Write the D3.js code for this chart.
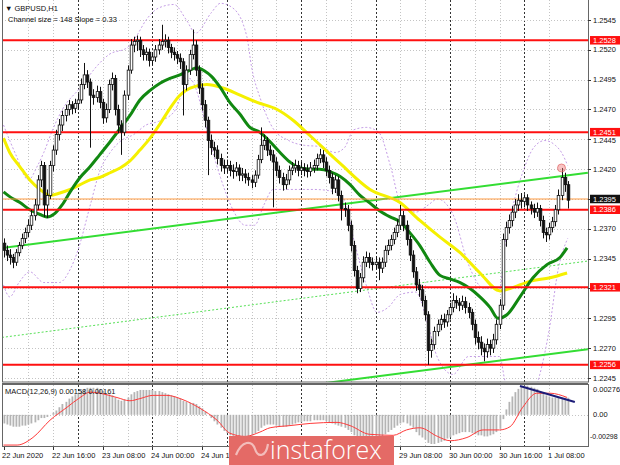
<!DOCTYPE html>
<html><head><meta charset="utf-8">
<script src="https://cdn.jsdelivr.net/npm/d3@7"></script>
<style>
html,body{margin:0;padding:0;background:#fff;}
svg{display:block;font-family:"Liberation Sans",Arial,sans-serif;}
</style></head><body>
<svg id="chart" width="620" height="465"></svg>
<script>
// ---- GBPUSD H1 candles ----
const symbol = "GBPUSD,H1";
const channelInfo = "Channel size = 148 Slope = 0.33";
const firstOpen = 1.2358;
const closes = [
1.2352,1.2348,1.2346,1.2342,1.2350,1.2356,1.2362,1.2367,1.2373,1.2381,
1.2390,1.2411,1.2423,1.2390,1.2398,1.2423,1.2436,1.2449,1.2457,1.2465,
1.2470,1.2474,1.2471,1.2475,1.2478,1.2491,1.2499,1.2493,1.2482,1.2480,
1.2485,1.2476,1.2463,1.2470,1.2491,1.2496,1.2470,1.2457,1.2451,1.2482,
1.2503,1.2524,1.2527,1.2528,1.2520,1.2516,1.2518,1.2511,1.2514,1.2520,
1.2524,1.2527,1.2528,1.2522,1.2518,1.2516,1.2513,1.2510,1.2491,1.2503,
1.2516,1.2524,1.2503,1.2488,1.2474,1.2461,1.2444,1.2438,1.2436,1.2429,
1.2423,1.2421,1.2423,1.2419,1.2418,1.2421,1.2415,1.2416,1.2413,1.2411,
1.2409,1.2415,1.2428,1.2440,1.2444,1.2436,1.2432,1.2426,1.2419,1.2413,
1.2407,1.2411,1.2419,1.2421,1.2423,1.2419,1.2421,1.2419,1.2418,1.2421,
1.2423,1.2429,1.2432,1.2426,1.2419,1.2413,1.2404,1.2411,1.2398,1.2387,
1.2386,1.2373,1.2356,1.2335,1.2320,1.2329,1.2342,1.2346,1.2342,1.2340,
1.2342,1.2337,1.2342,1.2352,1.2356,1.2361,1.2367,1.2373,1.2381,1.2373,
1.2361,1.2348,1.2334,1.2323,1.2319,1.2310,1.2298,1.2268,1.2273,1.2284,
1.2290,1.2294,1.2292,1.2298,1.2304,1.2310,1.2308,1.2306,1.2309,1.2304,
1.2300,1.2290,1.2279,1.2275,1.2270,1.2267,1.2273,1.2270,1.2277,1.2290,
1.2306,1.2361,1.2371,1.2377,1.2384,1.2390,1.2394,1.2393,1.2396,1.2390,
1.2387,1.2384,1.2387,1.2377,1.2367,1.2365,1.2371,1.2376,1.2386,1.2398,
1.2413,1.2407,1.2394];
const highs = [
1.2362,1.2356,1.2353,1.2349,1.2353,1.2359,1.2366,1.2371,1.2378,1.2386,
1.2395,1.2415,1.2427,1.2426,1.2403,1.2427,1.2440,1.2453,1.2462,1.2469,
1.2474,1.2478,1.2477,1.2479,1.2483,1.2496,1.2509,1.2503,1.2496,1.2487,
1.2490,1.2489,1.2479,1.2475,1.2495,1.2501,1.2499,1.2474,1.2461,1.2486,
1.2507,1.2529,1.2531,1.2532,1.2531,1.2524,1.2522,1.2521,1.2518,1.2524,
1.2529,1.2541,1.2533,1.2531,1.2525,1.2522,1.2519,1.2517,1.2513,1.2507,
1.2520,1.2537,1.2528,1.2507,1.2492,1.2478,1.2464,1.2449,1.2443,1.2440,
1.2433,1.2428,1.2428,1.2427,1.2424,1.2426,1.2424,1.2421,1.2420,1.2417,
1.2415,1.2419,1.2432,1.2455,1.2449,1.2447,1.2440,1.2436,1.2430,1.2423,
1.2417,1.2416,1.2423,1.2426,1.2428,1.2427,1.2426,1.2425,1.2424,1.2426,
1.2428,1.2433,1.2437,1.2436,1.2430,1.2423,1.2417,1.2415,1.2414,1.2402,
1.2392,1.2390,1.2377,1.2360,1.2339,1.2333,1.2347,1.2351,1.2350,1.2346,
1.2347,1.2346,1.2346,1.2356,1.2361,1.2365,1.2371,1.2378,1.2390,1.2385,
1.2377,1.2364,1.2352,1.2338,1.2328,1.2323,1.2314,1.2301,1.2278,1.2288,
1.2294,1.2298,1.2299,1.2302,1.2308,1.2316,1.2314,1.2312,1.2314,1.2313,
1.2308,1.2303,1.2294,1.2284,1.2280,1.2274,1.2278,1.2277,1.2282,1.2294,
1.2311,1.2366,1.2376,1.2382,1.2389,1.2395,1.2399,1.2400,1.2399,1.2399,
1.2393,1.2391,1.2392,1.2390,1.2381,1.2371,1.2375,1.2380,1.2390,1.2403,
1.2421,1.2417,1.2410];
const lows = [
1.2346,1.2343,1.2340,1.2337,1.2339,1.2347,1.2353,1.2358,1.2363,1.2369,
1.2377,1.2386,1.2405,1.2380,1.2379,1.2395,1.2418,1.2432,1.2444,1.2452,
1.2460,1.2465,1.2466,1.2467,1.2470,1.2475,1.2487,1.2488,1.2438,1.2474,
1.2476,1.2471,1.2458,1.2459,1.2467,1.2486,1.2465,1.2450,1.2432,1.2448,
1.2478,1.2500,1.2518,1.2519,1.2514,1.2511,1.2511,1.2506,1.2507,1.2510,
1.2516,1.2520,1.2522,1.2517,1.2513,1.2511,1.2508,1.2504,1.2465,1.2486,
1.2499,1.2512,1.2498,1.2483,1.2469,1.2455,1.2415,1.2432,1.2430,1.2424,
1.2418,1.2416,1.2417,1.2414,1.2412,1.2414,1.2410,1.2410,1.2408,1.2406,
1.2404,1.2405,1.2412,1.2425,1.2436,1.2431,1.2427,1.2388,1.2414,1.2408,
1.2402,1.2403,1.2407,1.2415,1.2417,1.2414,1.2415,1.2414,1.2413,1.2414,
1.2417,1.2419,1.2425,1.2421,1.2414,1.2408,1.2399,1.2400,1.2393,1.2377,
1.2380,1.2368,1.2351,1.2330,1.2316,1.2317,1.2325,1.2338,1.2337,1.2335,
1.2336,1.2327,1.2333,1.2338,1.2348,1.2352,1.2357,1.2363,1.2369,1.2368,
1.2356,1.2343,1.2329,1.2318,1.2313,1.2305,1.2293,1.2256,1.2262,1.2269,
1.2280,1.2285,1.2287,1.2288,1.2294,1.2300,1.2303,1.2301,1.2302,1.2299,
1.2295,1.2285,1.2273,1.2269,1.2264,1.2259,1.2262,1.2264,1.2266,1.2273,
1.2286,1.2302,1.2355,1.2366,1.2372,1.2379,1.2385,1.2387,1.2388,1.2385,
1.2382,1.2379,1.2380,1.2372,1.2362,1.2359,1.2361,1.2367,1.2372,1.2382,
1.2394,1.2401,1.2387];

// moving averages as [bar, price]
const maFast = [[0,1.2401],[2,1.2397],[5.3,1.2392],[8.5,1.2386],[11.8,1.2382],[14,1.2380],[16.6,1.2383],[18.9,1.2390],[21.5,1.2401],[24.7,1.2413],[27.9,1.2422],[31,1.2432],[34.4,1.2443],[37.6,1.2454],[40.8,1.2465],[44,1.2478],[47.3,1.2486],[50.5,1.2492],[53.7,1.2496],[56.9,1.2499],[60.2,1.2503],[62.4,1.2505],[65,1.2502],[67,1.2498],[69.8,1.2489],[73,1.2476],[76.3,1.2466],[79.5,1.2455],[82.7,1.2451],[86,1.2443],[89.2,1.2434],[92.4,1.2426],[95.6,1.2421],[98.9,1.2420],[102,1.2420],[105.3,1.2418],[108.5,1.2414],[111.8,1.2407],[115,1.2398],[118,1.2392],[121.4,1.2385],[124.7,1.2380],[127.9,1.2376],[131,1.2367],[134.3,1.2356],[137.6,1.2342],[140.8,1.2331],[144,1.2328],[147.3,1.2325],[150.5,1.2320],[153.7,1.2313],[157,1.2304],[159.5,1.2295],[162.4,1.2298],[166.6,1.2313],[170.8,1.2329],[175.3,1.2340],[179.5,1.2346],[181.8,1.2354]];
const maSlow = [[0,1.2446],[2,1.2434],[5.3,1.2422],[8.5,1.2411],[11.8,1.2403],[15,1.2398],[18.2,1.2400],[21.5,1.2403],[24.7,1.2407],[27.9,1.2411],[31,1.2413],[34.4,1.2417],[37.6,1.2421],[40.8,1.2427],[44,1.2436],[47.3,1.2446],[50.5,1.2458],[53.7,1.2471],[56.9,1.2482],[60.2,1.2488],[65.6,1.2491],[70.8,1.2488],[76.3,1.2482],[81.8,1.2476],[88.3,1.2470],[93.4,1.2461],[98.9,1.2448],[108.5,1.2425],[118.2,1.2403],[127.9,1.2392],[134.3,1.2377],[140.8,1.2363],[147.3,1.2350],[153.7,1.2333],[160.2,1.2318],[163.4,1.2320],[169.8,1.2326],[176.3,1.2329],[181.8,1.2333]];

// bollinger envelope as [bar, price]
const bandUpper = [[0,1.2457],[4,1.2432],[8,1.2411],[11,1.2423],[13,1.2434],[16,1.2454],[19,1.2470],[25,1.2489],[30,1.2506],[34,1.2516],[40,1.2522],[43,1.2532],[46,1.2545],[50,1.2555],[55,1.2558],[59,1.2545],[62,1.2534],[67,1.2551],[70,1.2559],[74,1.2555],[78.5,1.2531],[80,1.2506],[83,1.2478],[87,1.2454],[92,1.2444],[97,1.2440],[102,1.2439],[107,1.2434],[110,1.2438],[113,1.2453],[117,1.2455],[121,1.2451],[125,1.2421],[128,1.2392],[133,1.2384],[137,1.2390],[140,1.2395],[145,1.2382],[150,1.2340],[155,1.2320],[160,1.2320],[162,1.2361],[165,1.2396],[168,1.2421],[171,1.2438],[174.6,1.2444],[178,1.2440],[180,1.2434],[182,1.2423]];
const bandLower = [[0,1.2323],[2,1.2313],[5,1.2325],[8.5,1.2334],[13,1.2325],[18,1.2325],[21.5,1.2336],[24,1.2352],[28,1.2390],[31,1.2418],[34.4,1.2434],[38,1.2444],[42,1.2449],[46,1.2457],[50,1.2460],[55,1.2468],[58,1.2486],[60,1.2496],[62,1.2488],[64,1.2470],[66,1.2449],[70,1.2413],[74,1.2386],[78,1.2373],[81,1.2373],[84,1.2390],[87,1.2403],[92,1.2403],[100,1.2403],[107,1.2401],[110,1.2394],[113,1.2361],[117,1.2323],[120.5,1.2300],[124,1.2304],[128,1.2315],[133,1.2317],[137,1.2289],[140,1.2262],[145,1.2248],[150,1.2263],[155,1.2263],[160,1.2263],[162,1.2240],[165,1.2229],[170,1.2227],[173,1.2248],[176,1.2285],[179,1.2337],[182,1.2362]];

// linear regression channel: [bar, price] at both ends of each line
const channelTop = [[-0.5,1.2354],[188.5,1.2417]];
const channelMid = [[-0.5,1.2279],[188.5,1.2343]];
const channelBottom = [[-0.5,1.2206],[188.5,1.2269]];

// horizontal levels
const levels = [1.2528, 1.2451, 1.2386, 1.2321, 1.2256];
const bidPrice = 1.2395;
const peakBar = 180;

// axes
const priceTicks = [1.2545,1.2520,1.2495,1.2470,1.2445,1.2420,1.2395,1.2370,1.2345,1.2320,1.2295,1.2270,1.2245];
const timeLabelBars = [0,16,32,48,64,128,144,160,176];
const timeLabels = ["22 Jun 2020","22 Jun 16:00","23 Jun 08:00","24 Jun 00:00","24 Jun 16:00","29 Jun 08:00","30 Jun 00:00","30 Jun 16:00","1 Jul 08:00"];
const daySeparatorBars = [24,48,72,96,120,144,168];

// MACD(12,26,9)
const macdLabel = "MACD(12,26,9) 0.00158 0.00161";
const macdMain = [
-0.0008,-0.0009,-0.0010,-0.0011,-0.0011,-0.0011,-0.0010,-0.0010,-0.0009,-0.0008,
-0.0007,-0.0005,-0.0003,-0.0003,-0.0002,0.0000,0.0002,0.0004,0.0007,0.0010,
0.0012,0.0015,0.0017,0.0019,0.0020,0.0022,0.0024,0.0025,0.0025,0.0025,
0.0025,0.0024,0.0022,0.0020,0.0019,0.0018,0.0016,0.0014,0.0013,0.0014,
0.0016,0.0019,0.0021,0.0022,0.0023,0.0023,0.0023,0.0023,0.0023,0.0022,
0.0022,0.0021,0.0020,0.0019,0.0018,0.0017,0.0016,0.0015,0.0013,0.0012,
0.0011,0.0011,0.0010,0.0008,0.0006,0.0003,0.0000,-0.0003,-0.0006,-0.0009,
-0.0012,-0.0015,-0.0017,-0.0019,-0.0020,-0.0021,-0.0021,-0.0021,-0.0021,-0.0020,
-0.0019,-0.0017,-0.0015,-0.0012,-0.0010,-0.0009,-0.0009,-0.0009,-0.0010,-0.0011,
-0.0011,-0.0011,-0.0010,-0.0009,-0.0008,-0.0007,-0.0007,-0.0006,-0.0006,-0.0006,
-0.0005,-0.0005,-0.0005,-0.0005,-0.0006,-0.0007,-0.0008,-0.0009,-0.0010,-0.0011,
-0.0012,-0.0014,-0.0016,-0.0019,-0.0022,-0.0023,-0.0024,-0.0024,-0.0024,-0.0023,
-0.0022,-0.0021,-0.0020,-0.0018,-0.0016,-0.0014,-0.0012,-0.0010,-0.0008,-0.0007,
-0.0008,-0.0010,-0.0012,-0.0016,-0.0019,-0.0021,-0.0023,-0.0026,-0.0027,-0.0027,
-0.0026,-0.0025,-0.0024,-0.0022,-0.0021,-0.0019,-0.0018,-0.0017,-0.0016,-0.0016,
-0.0016,-0.0017,-0.0018,-0.0019,-0.0019,-0.0020,-0.0020,-0.0019,-0.0018,-0.0016,
-0.0013,-0.0004,0.0005,0.0012,0.0017,0.0021,0.0024,0.0026,0.0027,0.0027,
0.0026,0.0025,0.0024,0.0022,0.0020,0.0018,0.0017,0.0016,0.0016,0.0016,
0.0016,0.0016,0.00158];
const macdSignal = [[0,-0.0028],[4.4,-0.0028],[9.5,-0.0021],[15,-0.0005],[20.5,0.0007],[24.7,0.0016],[27.9,0.0021],[31,0.0020],[36.6,0.0016],[40.8,0.0013],[44,0.0015],[48.2,0.0018],[52.7,0.0018],[57.9,0.0014],[63.4,0.0006],[68.9,-0.0005],[73,-0.0017],[78,-0.0020],[82.7,-0.0016],[86,-0.0012],[92.4,-0.0010],[98.9,-0.0008],[107.6,-0.0007],[111.8,-0.0010],[118,-0.0018],[125.7,-0.0019],[130,-0.0014],[134.3,-0.0012],[140,-0.0020],[144.1,-0.0024],[149.5,-0.0021],[154.7,-0.0014],[160,-0.0014],[163.4,-0.0011],[167.5,0.0007],[172,0.0020],[176.3,0.0020],[181.8,0.00161]];
const macdTicks = [0.00276, 0.0, -0.00298];
const macdTickText = ["0.00276","0.00","-0.00298"];
const divergence = [[166.6,0.00267],[184.3,0.00119]];

// ---- layout ----
const L = 2, R = 588, mainTop = 0, mainBottom = 382, macdTop = 385, macdBottom = 447;
const svg = d3.select("#chart");
const x = d3.scaleLinear().domain([0, 182]).range([3.5, 567.7]);
const y = d3.scaleLinear().domain([1.2245, 1.2545]).range([378, 20]);
const ym = d3.scaleLinear().domain([-0.00298, 0.00276]).range([macdBottom, macdTop]);

const defs = svg.append("defs");
defs.append("clipPath").attr("id","clipMain").append("rect").attr("x",L).attr("y",mainTop).attr("width",R-L).attr("height",mainBottom-mainTop);
defs.append("clipPath").attr("id","clipMacd").append("rect").attr("x",L).attr("y",macdTop).attr("width",R-L).attr("height",macdBottom-macdTop);
defs.append("clipPath").attr("id","clipAxis").append("rect").attr("x",0).attr("y",macdBottom).attr("width",229).attr("height",20);

svg.append("rect").attr("width",620).attr("height",465).attr("fill","#fff");

const gMain = svg.append("g").attr("clip-path","url(#clipMain)");
const gMacd = svg.append("g").attr("clip-path","url(#clipMacd)");

// grid
const gridBars = d3.range(8, 183, 8).filter(b => !daySeparatorBars.includes(b));
[gMain, gMacd].forEach((g, k) => {
  const y0 = k === 0 ? mainTop : macdTop, y1 = k === 0 ? mainBottom : macdBottom;
  g.selectAll(null).data(gridBars).join("line")
    .attr("x1", d => Math.round(x(d)) + 0.5).attr("x2", d => Math.round(x(d)) + 0.5)
    .attr("y1", y0).attr("y2", y1)
    .attr("stroke", "#c4c4c4").attr("stroke-width", 1).attr("stroke-dasharray", "1,2");
  g.selectAll(null).data(daySeparatorBars).join("line")
    .attr("x1", d => Math.round(x(d)) + 0.5).attr("x2", d => Math.round(x(d)) + 0.5)
    .attr("y1", y0).attr("y2", y1)
    .attr("stroke", "#333").attr("stroke-width", 1).attr("stroke-dasharray", "2,2");
});
gMain.selectAll(null).data(priceTicks).join("line")
  .attr("x1", L).attr("x2", R)
  .attr("y1", d => Math.round(y(d)) + 0.5).attr("y2", d => Math.round(y(d)) + 0.5)
  .attr("stroke", "#c4c4c4").attr("stroke-dasharray", "1,2");
gMacd.append("line").attr("x1", L).attr("x2", R)
  .attr("y1", Math.round(ym(0)) + 0.5).attr("y2", Math.round(ym(0)) + 0.5)
  .attr("stroke", "#c4c4c4").attr("stroke-dasharray", "1,2");

// bollinger envelope
const bandLine = d3.line().x(d => x(d[0])).y(d => y(d[1])).curve(d3.curveMonotoneX);
[bandUpper, bandLower].forEach(b => gMain.append("path").attr("d", bandLine(b))
  .attr("fill","none").attr("stroke","#c59ee6").attr("stroke-width",1).attr("stroke-dasharray","2,2"));

// regression channel
const chLine = d3.line().x(d => x(d[0])).y(d => y(d[1]));
gMain.append("path").attr("d", chLine(channelMid)).attr("fill","none")
  .attr("stroke","#55e055").attr("stroke-width",1).attr("stroke-dasharray","2,2");
[channelTop, channelBottom].forEach(c => gMain.append("path").attr("d", chLine(c))
  .attr("fill","none").attr("stroke","#33dd33").attr("stroke-width",2));

// moving averages
const maLine = d3.line().x(d => x(d[0])).y(d => y(d[1])).curve(d3.curveMonotoneX);
gMain.append("path").attr("d", maLine(maSlow)).attr("fill","none").attr("stroke","#f5f000").attr("stroke-width",3);
gMain.append("path").attr("d", maLine(maFast)).attr("fill","none").attr("stroke","#118811").attr("stroke-width",3);

// levels
gMain.selectAll(null).data(levels).join("line")
  .attr("x1", L).attr("x2", R).attr("y1", d => y(d)).attr("y2", d => y(d))
  .attr("stroke", "#ff1010").attr("stroke-width", 2);
gMain.append("line").attr("x1", L).attr("x2", R).attr("y1", y(bidPrice)).attr("y2", y(bidPrice))
  .attr("stroke", "#ff9a40").attr("stroke-width", 1);

// candles
const bars = closes.map((c, i) => ({i, o: i ? closes[i-1] : firstOpen, c, h: highs[i], l: lows[i]}));
const gC = gMain.append("g");
gC.selectAll("line").data(bars).join("line")
  .attr("x1", d => Math.round(x(d.i)) + 0.5).attr("x2", d => Math.round(x(d.i)) + 0.5)
  .attr("y1", d => y(d.h)).attr("y2", d => y(d.l)).attr("stroke", "#111").attr("stroke-width", 1);
gC.selectAll("rect").data(bars).join("rect")
  .attr("x", d => Math.round(x(d.i)) - 0.8).attr("width", 2.6)
  .attr("y", d => y(Math.max(d.o, d.c))).attr("height", d => Math.max(1, Math.abs(y(d.o) - y(d.c))))
  .attr("fill", d => d.c >= d.o ? "#fff" : "#111").attr("stroke", "#111").attr("stroke-width", 0.8);

// swing-high marker
gMain.append("circle").attr("cx", x(peakBar)).attr("cy", y(highs[peakBar]))
  .attr("r", 4).attr("fill", "rgba(240,120,120,0.45)").attr("stroke", "rgba(220,90,90,0.8)").attr("stroke-width", 0.8);

// MACD
gMacd.selectAll("rect.h").data(macdMain).join("rect").attr("class","h")
  .attr("x", (d, i) => Math.round(x(i)) - 0.5).attr("width", 1.8)
  .attr("y", d => Math.min(ym(d), ym(0))).attr("height", d => Math.abs(ym(d) - ym(0)))
  .attr("fill", "#b4b4b4");
const mLine = d3.line().x(d => x(d[0])).y(d => ym(d[1])).curve(d3.curveMonotoneX);
gMacd.append("path").attr("d", mLine(macdSignal)).attr("fill","none").attr("stroke","#ff3a3a").attr("stroke-width",1);
gMacd.append("path").attr("d", d3.line().x(d => x(d[0])).y(d => ym(d[1]))(divergence))
  .attr("fill","none").attr("stroke","#1c1c78").attr("stroke-width",2);

// frames
svg.append("rect").attr("x", L + 0.5).attr("y", -1).attr("width", R - L).attr("height", mainBottom + 1)
  .attr("fill","none").attr("stroke","#666");
svg.append("rect").attr("x", L + 0.5).attr("y", macdTop - 0.5).attr("width", R - L).attr("height", macdBottom - macdTop)
  .attr("fill","none").attr("stroke","#666");
svg.append("line").attr("x1", L).attr("x2", R).attr("y1", mainBottom + 1.5).attr("y2", mainBottom + 1.5).attr("stroke","#666");

// price axis
const fs = 7.5;
const boxH = 8.5;
const tagPrices = levels.concat([bidPrice]);
// tick labels sitting under a price tag are hidden by it; those just below a tag are nudged down
const gapToTag = d => d3.min(tagPrices.map(l => Math.abs(y(d) - y(l))));
const visibleTicks = priceTicks.filter(d => gapToTag(d) >= 4);
const tickShift = d => tagPrices.some(l => l > d && y(d) - y(l) >= 4 && y(d) - y(l) < 9) ? 1.5 : 0;
const pa = svg.append("g");
pa.selectAll("line").data(priceTicks).join("line")
  .attr("x1", R).attr("x2", R + 3).attr("y1", d => Math.round(y(d)) + 0.5).attr("y2", d => Math.round(y(d)) + 0.5).attr("stroke", "#333");
pa.selectAll("text").data(visibleTicks).join("text")
  .attr("x", R + 5).attr("y", d => y(d) + tickShift(d)).attr("dy", "0.35em")
  .attr("font-size", fs).attr("fill", "#111").text(d => d.toFixed(4));
const lv = svg.append("g");
lv.selectAll("rect").data(levels).join("rect")
  .attr("x", R + 2).attr("y", d => y(d) - boxH / 2).attr("width", 31).attr("height", boxH).attr("fill", "#ff1010");
lv.selectAll("text").data(levels).join("text")
  .attr("x", R + 5).attr("y", d => y(d)).attr("dy", "0.35em")
  .attr("font-size", fs).attr("fill", "#fff").text(d => d.toFixed(4));
svg.append("rect").attr("x", R + 2).attr("y", y(bidPrice) - boxH / 2).attr("width", 31).attr("height", boxH).attr("fill", "#111");
svg.append("text").attr("x", R + 5).attr("y", y(bidPrice)).attr("dy", "0.35em")
  .attr("font-size", fs).attr("fill", "#fff").text(bidPrice.toFixed(4));

// MACD axis
svg.selectAll("text.mt").data(macdTicks).join("text").attr("class","mt")
  .attr("x", (d, i) => i === 2 ? R + 2 : R + 5)
  .attr("y", (d, i) => i === 0 ? ym(d) + 4 : i === 2 ? ym(d) - 10 : ym(d))
  .attr("dy", "0.35em").attr("font-size", (d, i) => i === 2 ? 7 : fs).attr("fill", "#111").text((d, i) => macdTickText[i]);

// time axis
const ta = svg.append("g").attr("clip-path", "url(#clipAxis)");
ta.selectAll("text.tl").data(timeLabelBars.slice(0, 5)).join("text").attr("class","tl")
  .attr("x", (d, i) => i === 0 ? L : Math.round(x(d)) - 1).attr("y", 458)
  .attr("font-size", fs).attr("fill", "#111").text((d, i) => timeLabels[i]);
svg.selectAll("text.tr").data(timeLabelBars.slice(5)).join("text").attr("class","tr")
  .attr("x", d => Math.round(x(d)) - 1).attr("y", 458)
  .attr("font-size", fs).attr("fill", "#111").text((d, i) => timeLabels[i + 5]);
svg.selectAll("line.tt").data(timeLabelBars).join("line").attr("class","tt")
  .attr("x1", d => Math.round(x(d)) + 0.5).attr("x2", d => Math.round(x(d)) + 0.5)
  .attr("y1", macdBottom).attr("y2", macdBottom + 3).attr("stroke", "#333");

// titles
svg.append("text").attr("x", 5).attr("y", 11).attr("font-size", fs).attr("fill","#111").text("\u25BC " + symbol);
svg.append("text").attr("x", 8).attr("y", 22).attr("font-size", fs).attr("fill","#111").text(channelInfo);
svg.append("text").attr("x", 5).attr("y", 394).attr("font-size", fs).attr("fill","#111").text(macdLabel);

// watermark
const wm = svg.append("g");
wm.append("rect").attr("x", 229).attr("y", 436).attr("width", 165).attr("height", 29).attr("fill", "#e46a66");
wm.append("path").attr("d", "M236,455 C242,440 252,440 255,449 C258,458 266,457 268,444")
  .attr("fill", "none").attr("stroke", "rgba(255,255,255,0.55)").attr("stroke-width", 2.2);
wm.append("text").attr("x", 270).attr("y", 459).attr("font-size", 25).attr("fill", "#fff")
  .attr("font-family", "'Open Sans', sans-serif").attr("font-weight", 300).text("instaforex");
</script>
</body></html>
